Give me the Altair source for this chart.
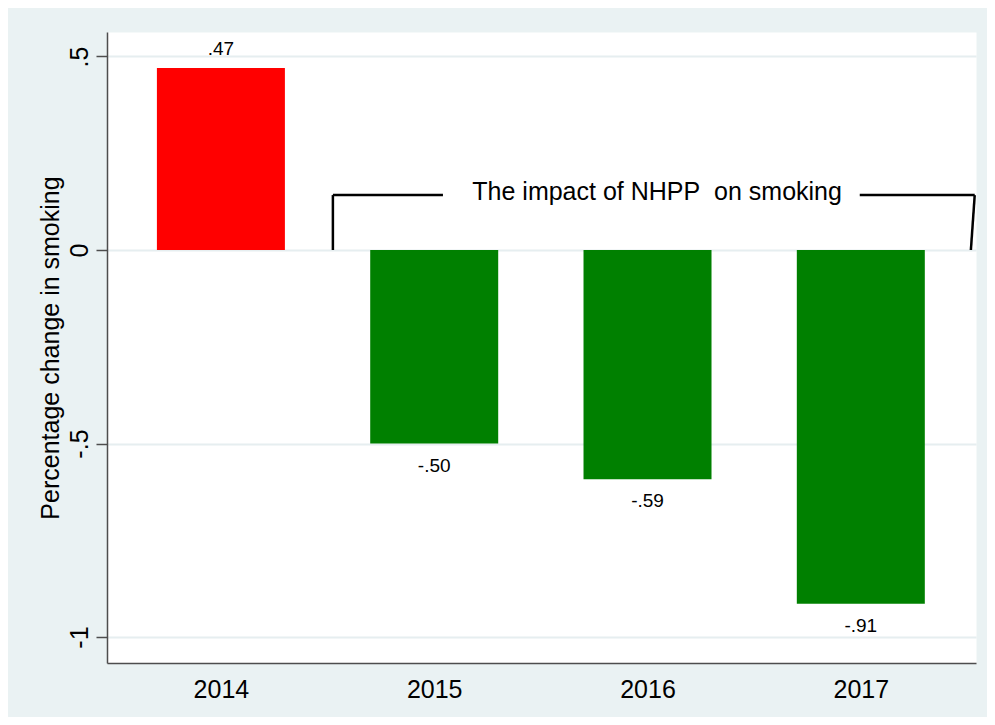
import altair as alt
import pandas as pd

years = [2014, 2015, 2016, 2017]
values = [0.47, -0.50, -0.592, -0.914]
value_labels = [".47", "-.50", "-.59", "-.91"]
bar_colors = ["#FF0000", "#008000", "#008000", "#008000"]

y_ticks = [-1, -0.5, 0, 0.5]
y_tick_labels = ["-1", "-.5", "0", ".5"]

# bracket annotation (data coordinates: year units, value units)
br_x = [2014.525, 2014.525, 2016.995, 2017.534]
br_x2 = [2014.525, 2015.041, 2017.534, 2017.516]
br_y = [0.0, 0.142, 0.142, 0.142]
br_y2 = [0.142, 0.142, 0.142, 0.0]
note_text = ["The impact of NHPP\u00a0 on smoking"]
note_x = [2016.045]
note_y = [0.129]

FONT = "Liberation Sans"

df = pd.DataFrame({"year": years, "value": values, "label": value_labels, "color": bar_colors})
br = pd.DataFrame({"x": br_x, "x2": br_x2, "y": br_y, "y2": br_y2})
note = pd.DataFrame({"text": note_text, "x": note_x, "y": note_y})

label_expr = " : ".join(
    f"datum.value == {v} ? '{l}'" for v, l in zip(y_ticks, y_tick_labels)
) + " : ''"

xscale = alt.Scale(domain=[2013.466, 2017.54], nice=False, zero=False, padding=0)
yscale = alt.Scale(domain=[-1.067, 0.5633], nice=False, zero=False, padding=0)

x_enc = alt.X(
    "year:Q", scale=xscale,
    axis=alt.Axis(values=years, format="d", title=None, grid=False, ticks=False,
                  tickSize=0, labelPadding=14, labelFontSize=25, labelFont=FONT,
                  labelColor="black", domainColor="#4D4D4D", domainWidth=1.5,
                  labelFlush=False),
)
y_enc = alt.Y(
    "value:Q", scale=yscale,
    axis=alt.Axis(values=y_ticks, labelExpr=label_expr,
                  title="Percentage change in smoking",
                  titleFont=FONT, titleFontSize=25, titleFontWeight="normal",
                  titleColor="black", titleAngle=270, titleBaseline="alphabetic",
                  titleAlign="center", titleX=-49, titleY=315.5,
                  labelAngle=270, labelAlign="center", labelBaseline="alphabetic",
                  labelPadding=9, labelFontSize=25, labelFont=FONT, labelColor="black",
                  tickSize=11, tickColor="#4D4D4D", tickWidth=1.5,
                  domainColor="#4D4D4D", domainWidth=1.5,
                  grid=True, gridColor="#E6EEF0", gridWidth=2,
                  labelFlush=False, labelOverlap=False),
)

bars = alt.Chart(df).mark_bar(size=128).encode(
    x=x_enc, y=y_enc, y2=alt.datum(0), color=alt.Color("color:N", scale=None)
)

pos_labels = alt.Chart(df).transform_filter("datum.value >= 0").mark_text(
    font=FONT, fontSize=19, baseline="alphabetic", align="center", dy=-13, color="black"
).encode(x=alt.X("year:Q", scale=xscale), y=alt.Y("value:Q", scale=yscale), text="label:N")

neg_labels = alt.Chart(df).transform_filter("datum.value < 0").mark_text(
    font=FONT, fontSize=19, baseline="alphabetic", align="center", dy=28, color="black"
).encode(x=alt.X("year:Q", scale=xscale), y=alt.Y("value:Q", scale=yscale), text="label:N")

bracket = alt.Chart(br).mark_rule(color="black", strokeWidth=2.5).encode(
    x=alt.X("x:Q", scale=xscale), x2="x2:Q",
    y=alt.Y("y:Q", scale=yscale), y2="y2:Q",
)

note_layer = alt.Chart(note).mark_text(
    font=FONT, fontSize=25, baseline="alphabetic", align="center", color="black"
).encode(x=alt.X("x:Q", scale=xscale), y=alt.Y("y:Q", scale=yscale), text="text:N")

chart = alt.layer(bars, pos_labels, neg_labels, bracket, note_layer).properties(
    width=869, height=631,
    autosize=alt.AutoSizeParams(type="none"),
    padding={"left": 99, "top": 24, "right": 11, "bottom": 54},
    background="#EAF2F3",
).configure_view(fill="white", stroke="transparent")

chart.save("out.html", embed_options={"renderer": "svg", "actions": False})
